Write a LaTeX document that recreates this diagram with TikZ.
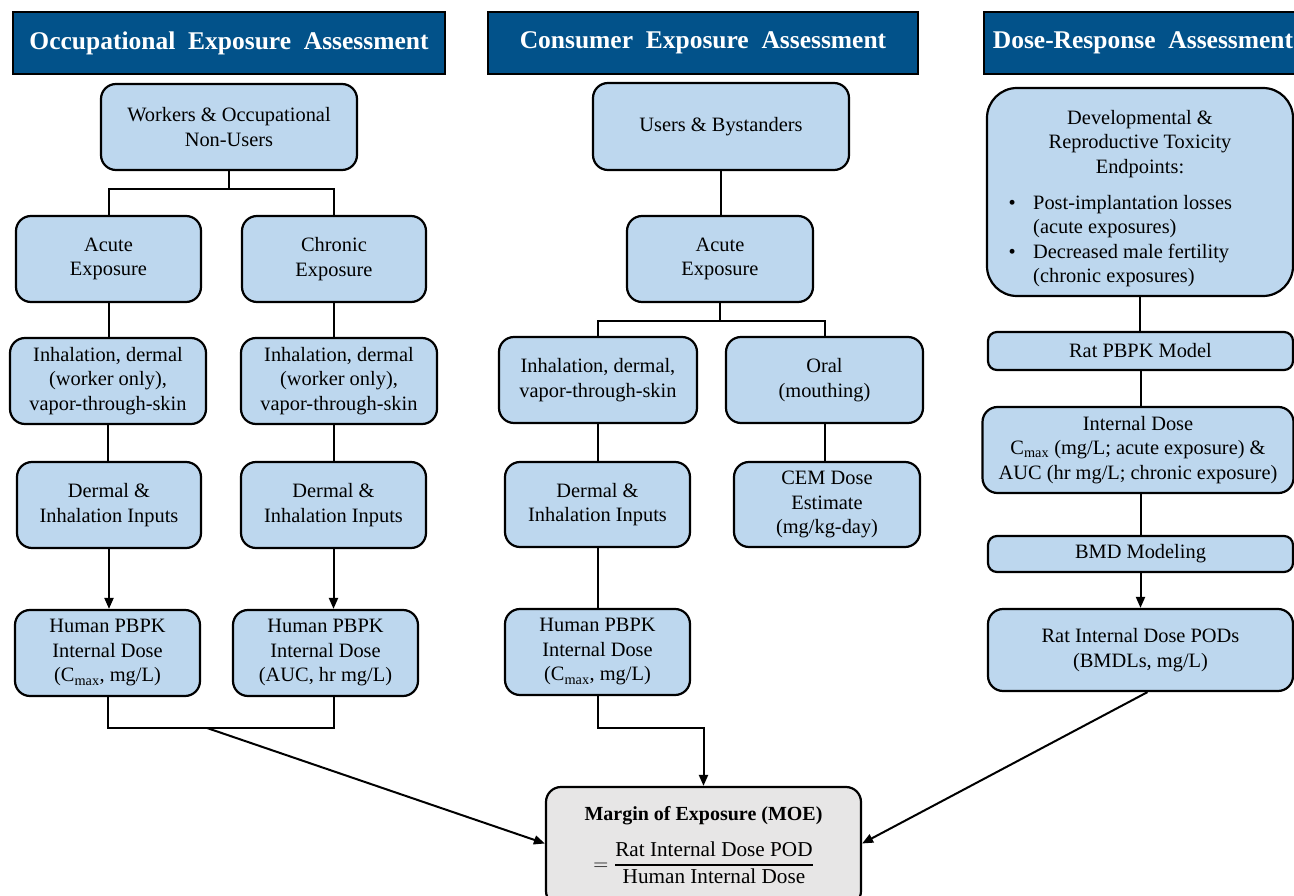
\documentclass[tikz,border=0pt]{standalone}
\usepackage{fontspec}
\setmainfont{Liberation Serif}
\usetikzlibrary{arrows.meta,calc}
\definecolor{hdrblue}{RGB}{2,82,138}
\definecolor{boxblue}{RGB}{189,215,238}
\definecolor{moegray}{RGB}{231,230,230}

\begin{document}
\begin{tikzpicture}[x=1pt,y=-1pt,
  hdr/.style={draw=black, line width=2pt, fill=hdrblue, text=white,
    font=\fontsize{25.5}{30}\selectfont\bfseries, inner sep=0pt},
  box/.style={draw=black, line width=2.2pt, fill=boxblue, rounded corners=15pt,
    align=center, inner sep=0pt, font=\fontsize{20.4}{24.5}\selectfont},
  txt/.style={inner sep=0pt, font=\fontsize{20.4}{24.5}\selectfont},
  link/.style={line width=2pt},
  arr/.style={line width=2pt, -{Triangle[length=11pt,width=9pt]}},
]
\useasboundingbox (0,0) rectangle (1294,896);
\clip (0,0) rectangle (1294,896);

% ---- column headers
\node[hdr, minimum width=432, minimum height=62] (h1) at (229,43)
  {Occupational\hspace{0.5em}Exposure\hspace{0.5em}Assessment};
\node[hdr, minimum width=430, minimum height=62] (h2) at (703,43)
  {Consumer\hspace{0.5em}Exposure\hspace{0.5em}Assessment};
\node[hdr, minimum width=318, minimum height=62] (h3) at (1143,43)
  {Dose-Response\hspace{0.5em}Assessment};

% ---- occupational column
\node[box, minimum width=256, minimum height=86] (workers) at (229,127)
  {Workers \& Occupational\\Non-Users};
\node[box, minimum width=185, minimum height=86] (acute1) at (108.5,259)
  {Acute\\Exposure};
\node[box, minimum width=184, minimum height=86] (chronic) at (334,259)
  {Chronic\\Exposure};
\node[box, minimum width=196, minimum height=86] (inh1) at (108,381)
  {Inhalation, dermal\\(worker only),\\vapor-through-skin};
\node[box, minimum width=196, minimum height=86] (inh2) at (339,381)
  {Inhalation, dermal\\(worker only),\\vapor-through-skin};
\node[box, minimum width=184, minimum height=86] (derm1) at (109,505)
  {Dermal \&\\Inhalation Inputs};
\node[box, minimum width=185, minimum height=86] (derm2) at (333.5,505)
  {Dermal \&\\Inhalation Inputs};
\node[box, minimum width=185, minimum height=86] (pbpk1) at (107.5,653)
  {Human PBPK\\Internal Dose\\(C\textsubscript{max}, mg/L)};
\node[box, minimum width=185, minimum height=86] (pbpk2) at (325.5,653)
  {Human PBPK\\Internal Dose\\(AUC, hr mg/L)};

% ---- consumer column
\node[box, minimum width=256, minimum height=87] (users) at (721,126.5)
  {Users \& Bystanders};
\node[box, minimum width=186, minimum height=86] (acute2) at (720,259)
  {Acute\\Exposure};
\node[box, minimum width=198, minimum height=86] (inh3) at (598,380)
  {Inhalation, dermal,\\vapor-through-skin};
\node[box, minimum width=197, minimum height=86] (oral) at (824.5,380)
  {Oral\\(mouthing)};
\node[box, minimum width=185, minimum height=85] (derm3) at (597.5,504.5)
  {Dermal \&\\Inhalation Inputs};
\node[box, minimum width=186, minimum height=85] (cem) at (827,504.5)
  {CEM Dose\\Estimate\\(mg/kg-day)};
\node[box, minimum width=185, minimum height=86] (pbpk3) at (597.5,652)
  {Human PBPK\\Internal Dose\\(C\textsubscript{max}, mg/L)};

% ---- dose-response column
\node[box, rounded corners=30pt, minimum width=306, minimum height=208] (dev) at (1140,192) {};
\node[txt, align=center] (devhead) at (1140,144)
  {Developmental \&\\Reproductive Toxicity\\Endpoints:};
\node[txt, align=left, anchor=west] (devlist) at (1008.5,241)
  {\makebox[24.5pt][l]{\textbullet}Post-implantation losses\\
   \hspace*{24.5pt}(acute exposures)\\
   \makebox[24.5pt][l]{\textbullet}Decreased male fertility\\
   \hspace*{24.5pt}(chronic exposures)};
\node[box, rounded corners=9pt, minimum width=305, minimum height=38] (ratpbpk) at (1140.5,351)
  {Rat PBPK Model};
\node[box, minimum width=311, minimum height=86] (intdose) at (1138,450)
  {Internal Dose\\C\textsubscript{max} (mg/L; acute exposure) \&\\AUC (hr mg/L; chronic exposure)};
\node[box, rounded corners=9pt, minimum width=305, minimum height=36] (bmd) at (1140.5,554)
  {BMD Modeling};
\node[box, minimum width=305, minimum height=82] (pod) at (1140.5,650)
  {Rat Internal Dose PODs\\(BMDLs, mg/L)};

% ---- margin of exposure
\node[box, fill=moegray, minimum width=315, minimum height=119] (moe) at (703.5,846.5) {};
\node[txt, font=\fontsize{20}{24.5}\selectfont\bfseries] (moetitle) at (703.5,816)
  {Margin of Exposure (MOE)};
\node[txt, font=\fontsize{21.2}{25}\selectfont] (moefrac) at (703,865)
  {$=$\hspace{7pt}\setlength{\arrayrulewidth}{1.6pt}%
   \begin{tabular}{@{}c@{}}Rat Internal Dose POD\\\hline Human Internal Dose\end{tabular}};

% ---- occupational connectors
\draw[link] (workers.south) -- ++(0,18) coordinate (wj);
\draw[link] (acute1.north) |- (wj) -| (chronic.north);
\draw[link] (acute1.south) -- (acute1.south |- inh1.north);
\draw[link] (chronic.south) -- (chronic.south |- inh2.north);
\draw[link] (inh1.south) -- (inh1.south |- derm1.north);
\draw[link] (derm2.north) -- (derm2.north |- inh2.south);
\draw[arr] (derm1.south) -- (derm1.south |- pbpk1.north);
\draw[arr] (derm2.south) -- (derm2.south |- pbpk2.north);
\coordinate (oj) at (207,728);
\draw[link] (pbpk1.south) -- (pbpk1.south |- oj) -- (oj -| derm2.south)
  -- (derm2.south |- pbpk2.south);
\draw[arr] (oj) -- ($(moe.west)+(0,-3)$);

% ---- consumer connectors
\draw[link] (users.south) -- (users.south |- acute2.north);
\draw[link] (acute2.south) -- ++(0,18) coordinate (cj);
\draw[link] (inh3.north) |- (cj) -| (oral.north);
\draw[link] (inh3.south) -- (inh3.south |- derm3.north);
\draw[link] (oral.south) -- (oral.south |- cem.north);
\draw[link] (derm3.south) -- (derm3.south |- pbpk3.north);
\draw[arr] (pbpk3.south) -- ++(0,32) -| (moe.north);

% ---- dose-response connectors
\draw[link] (dev.south) -- (dev.south |- ratpbpk.north);
\draw[link] (ratpbpk.south) -- (ratpbpk.south |- intdose.north);
\draw[link] (ratpbpk.south |- intdose.south) -- (ratpbpk.south |- bmd.north);
\draw[arr] (bmd.south) -- (pod.north);
\draw[arr] ($(pod.south)+(7,0)$) -- ($(moe.east)+(0,-3)$);
\end{tikzpicture}
\end{document}
